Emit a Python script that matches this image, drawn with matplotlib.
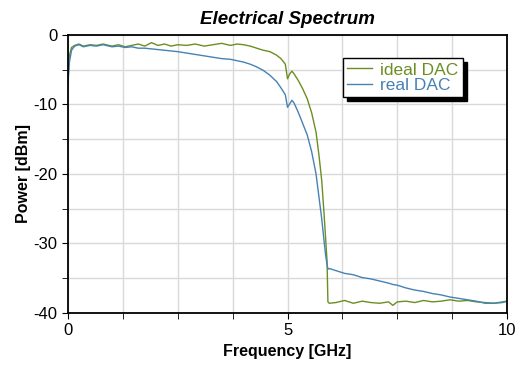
import matplotlib.pyplot as plt
from matplotlib.ticker import MultipleLocator

plt.rcParams['font.family'] = ['Liberation Sans', 'DejaVu Sans']
plt.rcParams['axes.unicode_minus'] = False

# frequency in GHz, power in dBm
freq = [0, 0.03, 0.08, 0.15, 0.25, 0.35, 0.5, 0.65, 0.8, 1.0, 1.15, 1.3, 1.45, 1.6,
        1.75, 1.9, 2.05, 2.2, 2.35, 2.5, 2.7, 2.9, 3.1, 3.3, 3.5, 3.7, 3.85, 4.0, 4.15,
        4.3, 4.45, 4.6, 4.75, 4.85, 4.95, 5.0, 5.05, 5.1, 5.15, 5.25, 5.35, 5.45, 5.55,
        5.65, 5.72, 5.78, 5.83, 5.87, 5.9, 5.92, 5.95, 6.1, 6.3, 6.5, 6.7, 6.9, 7.1,
        7.3, 7.4, 7.5, 7.7, 7.9, 8.1, 8.3, 8.5, 8.7, 8.9, 9.1, 9.3, 9.5, 9.7, 9.9, 10]

ideal_dac = [-6.5, -3.0, -1.8, -1.5, -1.3, -1.6, -1.4, -1.5, -1.3, -1.6, -1.4, -1.7,
             -1.5, -1.3, -1.6, -1.1, -1.5, -1.3, -1.6, -1.4, -1.5, -1.3, -1.6, -1.4,
             -1.2, -1.5, -1.3, -1.4, -1.6, -1.9, -2.2, -2.4, -2.9, -3.4, -4.2, -6.3,
             -5.6, -5.2, -5.6, -6.6, -7.8, -9.2, -11.2, -14.0, -17.5, -21.0, -25.5,
             -29.5, -32.5, -38.4, -38.6, -38.5, -38.2, -38.6, -38.3, -38.5, -38.6,
             -38.4, -38.9, -38.4, -38.3, -38.5, -38.2, -38.4, -38.3, -38.1, -38.3,
             -38.2, -38.4, -38.5, -38.6, -38.4, -38.3]

real_dac = [-6.8, -4.0, -2.2, -1.6, -1.4, -1.7, -1.5, -1.6, -1.4, -1.7, -1.6, -1.8,
            -1.7, -1.9, -1.9, -2.0, -2.1, -2.2, -2.3, -2.4, -2.6, -2.8, -3.0, -3.2,
            -3.4, -3.5, -3.7, -3.9, -4.2, -4.6, -5.1, -5.8, -6.7, -7.6, -8.6, -10.4,
            -9.9, -9.4, -9.8, -11.2, -12.8, -14.4, -16.8, -20.0, -23.5, -26.5, -29.5,
            -31.8, -33.0, -33.7, -33.6, -33.9, -34.3, -34.5, -34.9, -35.1, -35.4,
            -35.7, -35.9, -36.0, -36.4, -36.7, -36.9, -37.2, -37.4, -37.7, -37.9,
            -38.1, -38.3, -38.6, -38.6, -38.5, -38.3]

green = '#6b8e23'
blue = '#4682b4'

fig = plt.figure(figsize=(5.24, 3.73), dpi=100)
ax = fig.add_axes([0.1298, 0.1609, 0.8378, 0.7453])

ax.plot(freq, ideal_dac, color=green, lw=1, label='ideal DAC')
ax.plot(freq, real_dac, color=blue, lw=1, label='real DAC')

ax.set_xlim(0, 10)
ax.set_ylim(-40, 0)
ax.xaxis.set_major_locator(MultipleLocator(5))
ax.xaxis.set_minor_locator(MultipleLocator(1.25))
ax.yaxis.set_major_locator(MultipleLocator(10))
ax.yaxis.set_minor_locator(MultipleLocator(5))
ax.grid(True, which='both', color='#d9d9d9', lw=1)
ax.set_axisbelow(True)
ax.tick_params(which='both', direction='out', length=4, labelsize=12)

for s in ax.spines.values():
    s.set_color('black')
    s.set_linewidth(1.3)

ax.set_title('Electrical Spectrum', fontsize=13.5, fontweight='bold', style='italic', pad=8)
ax.set_xlabel('Frequency [GHz]', fontsize=11.5, fontweight='bold', labelpad=4)
ax.set_ylabel('Power [dBm]', fontsize=11.5, fontweight='bold', labelpad=2)

leg = ax.legend(loc='upper left', bbox_to_anchor=(0.626, 0.917), borderaxespad=0,
                fontsize=12.5, handlelength=1.45, handletextpad=0.45, borderpad=0.25,
                fancybox=False, framealpha=1, edgecolor='black', labelspacing=0,
                shadow={'color': 'black', 'alpha': 1, 'ox': 3, 'oy': -3})
leg.get_frame().set_linewidth(1)
for txt, c in zip(leg.get_texts(), [green, blue]):
    txt.set_color(c)

fig.savefig('out.png', dpi=100)
